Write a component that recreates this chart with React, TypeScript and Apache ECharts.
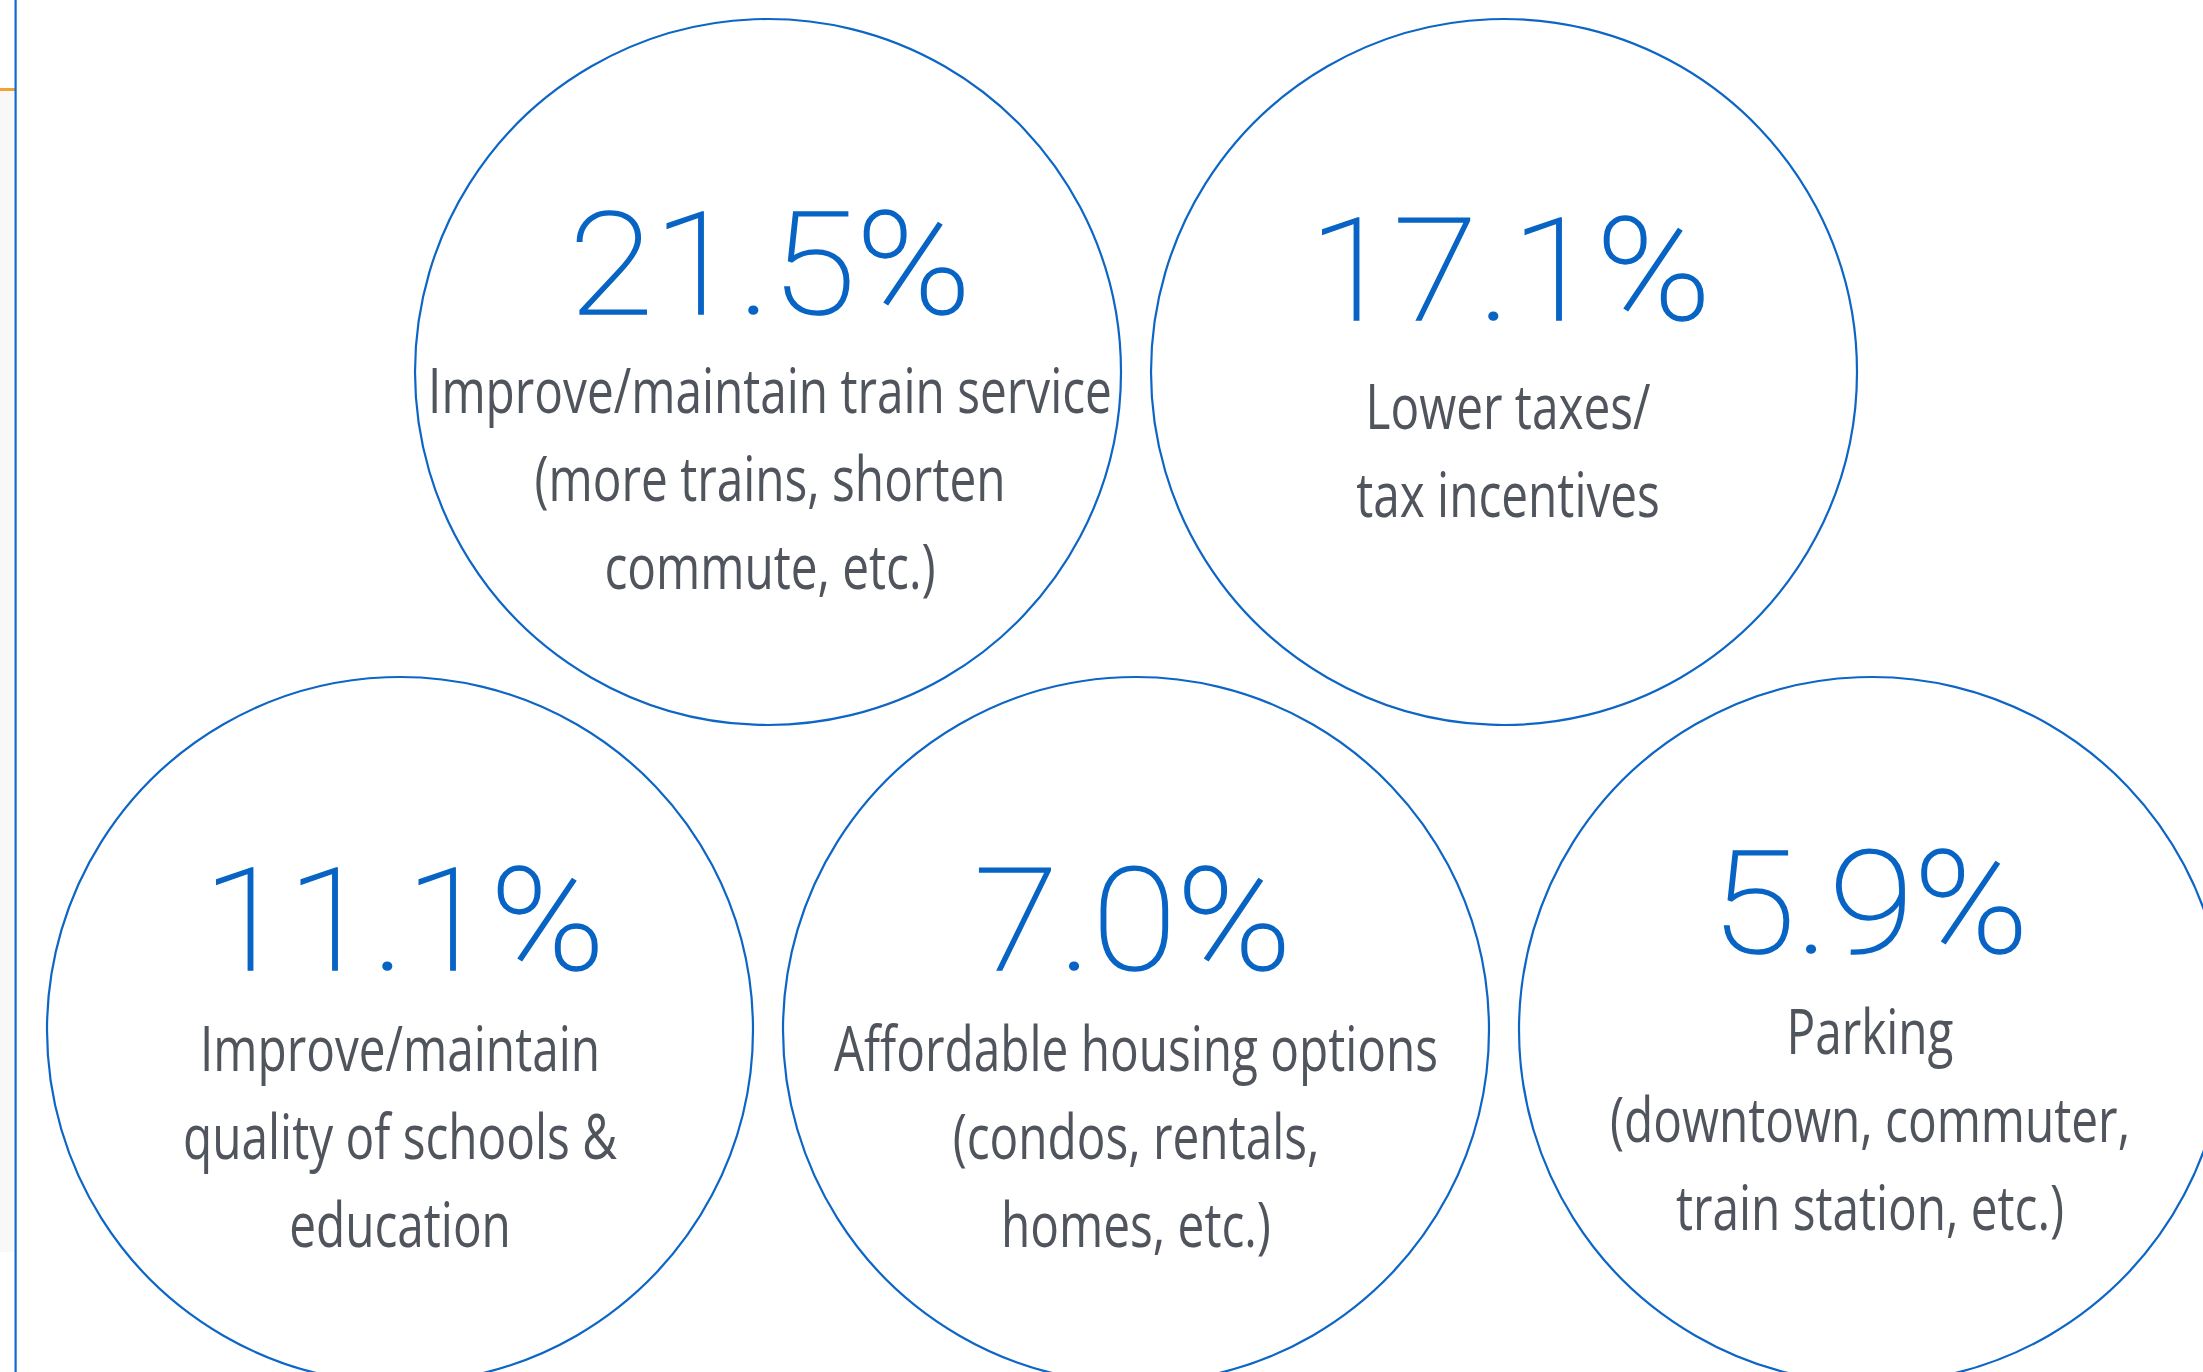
import React, { useEffect, useRef } from "react";
import * as echarts from "echarts";

// ---- data ----
const categories = [
  "Improve/maintain train service\n(more trains, shorten\ncommute, etc.)",
  "Lower taxes/\ntax incentives",
  "Improve/maintain\nquality of schools &\neducation",
  "Affordable housing options\n(condos, rentals,\nhomes, etc.)",
  "Parking\n(downtown, commuter,\ntrain station, etc.)",
];
const shares = [21.5, 17.1, 11.1, 7.0, 5.9];

// ---- layout (slot positions in a hex-like arrangement) ----
const slotCol = [1, 3, 0, 2, 4];
const slotRow = [0, 0, 1, 1, 1];
const pctBaseline = [-58, -52, -60, -60, -77];
const labelGap = [99, 109, 101, 101, 101];
const textDx = [2, 4, 0, 0, -2];
const pctDx = [2, 6, 4, -3, -2];

const R = 353;
const PCT_SIZE = 142;
const PCT_STRETCH = 1.09;
const LBL_SIZE = 62;
const LINE_H = 88;
const CONDENSE = 0.77;
const BLUE = "#0864c4";
const STROKE = "#0d66c6";
const GRAY = "#50545c";

export default function App() {
  const ref = useRef<HTMLDivElement>(null);
  useEffect(() => {
    document.body.style.margin = "0";
    const chart = echarts.init(ref.current!, undefined, { renderer: "svg" });
    const data = shares.map((v, i) => [slotCol[i], slotRow[i], v, i]);
    chart.setOption({
      animation: false,
      backgroundColor: "#ffffff",
      grid: { left: 32, right: 331, top: 372, bottom: 342 },
      xAxis: { type: "value", min: -1, max: 4, show: false },
      yAxis: { type: "value", min: 0, max: 1, inverse: true, show: false },
      graphic: [
        { type: "rect", shape: { x: 0, y: 90, width: 14, height: 1162 }, style: { fill: "#f8f8f8" } },
        { type: "rect", shape: { x: 0, y: 88, width: 15, height: 3 }, style: { fill: "#f6a033" } },
        { type: "rect", shape: { x: 14.5, y: 0, width: 2.2, height: 1372 }, style: { fill: "#0b6bd0" } },
      ],
      series: [
        {
          type: "custom",
          silent: true,
          clip: false,
          data,
          encode: { x: 0, y: 1 },
          renderItem: (params: any, api: any) => {
            const i = api.value(3) as number;
            const v = api.value(2) as number;
            const [cx, cy] = api.coord([api.value(0), api.value(1)]);
            const lines = categories[i].split("\n");
            const tx = cx + textDx[i];
            const children: any[] = [
              {
                type: "circle",
                shape: { cx, cy, r: R },
                style: { fill: "#ffffff", stroke: STROKE, lineWidth: 2.2 },
              },
              {
                type: "text",
                x: cx + pctDx[i],
                y: cy + pctBaseline[i] - 0.34 * PCT_SIZE,
                scaleX: PCT_STRETCH,
                style: {
                  x: 0,
                  y: 0,
                  text: v.toFixed(1) + "%",
                  fill: BLUE,
                  stroke: BLUE,
                  lineWidth: 1.6,
                  fontFamily: "Roboto, 'Liberation Sans', sans-serif",
                  fontWeight: 100,
                  fontSize: PCT_SIZE,
                  align: "center",
                  verticalAlign: "middle",
                },
              },
            ];
            lines.forEach((ln, k) => {
              children.push({
                type: "text",
                x: tx,
                y: cy + pctBaseline[i] + labelGap[i] + k * LINE_H - 0.39 * LBL_SIZE,
                scaleX: CONDENSE,
                style: {
                  x: 0,
                  y: 0,
                  text: ln,
                  fill: GRAY,
                  fontFamily: "'Open Sans', 'Noto Sans', sans-serif",
                  fontSize: LBL_SIZE,
                  align: "center",
                  verticalAlign: "middle",
                },
              });
            });
            return { type: "group", children };
          },
        },
      ],
    });
    return () => chart.dispose();
  }, []);
  return <div ref={ref} style={{ width: 2203, height: 1372 }} />;
}
